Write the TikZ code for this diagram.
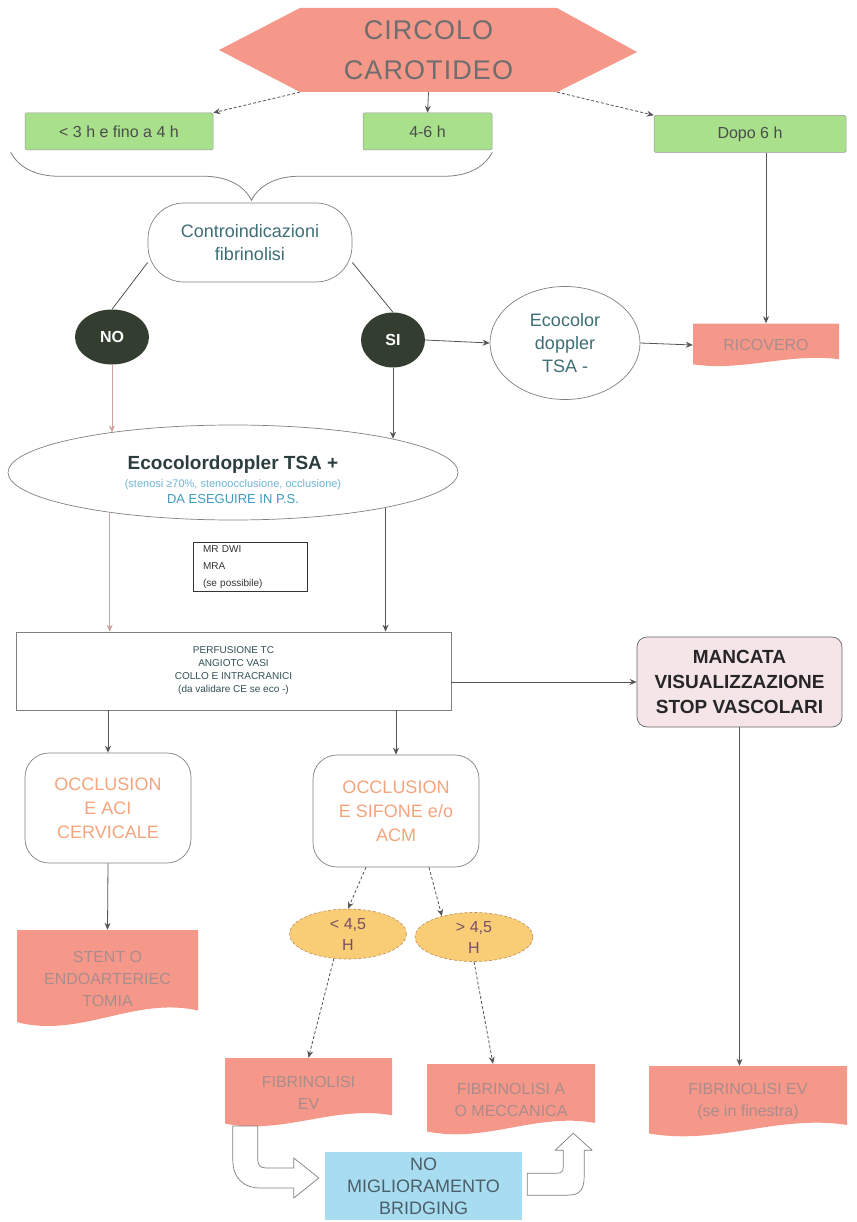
\documentclass[tikz,border=0pt]{standalone}
\usepackage{fontspec}
\setmainfont{Liberation Sans}
\usetikzlibrary{arrows.meta,shapes.geometric,calc,decorations.pathreplacing}
\definecolor{salmon}{RGB}{245,152,138}
\definecolor{lgreen}{RGB}{168,224,140}
\definecolor{gold}{RGB}{249,204,118}
\definecolor{goldborder}{RGB}{190,140,90}
\definecolor{darkball}{RGB}{52,62,48}
\definecolor{tealtxt}{RGB}{62,110,118}
\definecolor{tealdark}{RGB}{50,80,85}
\definecolor{occtxt}{RGB}{245,165,125}
\definecolor{fadetxt}{RGB}{170,140,140}
\definecolor{lblue}{RGB}{168,220,240}
\definecolor{lpink}{RGB}{245,228,232}
\definecolor{linegray}{RGB}{85,85,85}
\definecolor{hextxt}{RGB}{110,110,110}
\definecolor{pinkline}{RGB}{205,160,160}
\definecolor{htxt}{RGB}{120,80,100}
\definecolor{bigtxt}{RGB}{45,60,60}
\definecolor{lbluetxt}{RGB}{110,180,215}
\definecolor{bluetxt}{RGB}{60,155,190}
\definecolor{nomigtxt}{RGB}{75,95,105}
\newcommand\fsz[2]{\fontsize{#1}{#2}\selectfont}
\tikzset{
  arr/.style={draw=linegray, line width=0.8pt, -{Stealth[length=7pt,width=6pt]}},
  conn/.style={draw=linegray, line width=0.8pt},
  dsh/.style={dash pattern=on 3pt off 2pt},
  greenbox/.style={rectangle, fill=lgreen, draw=gray!80, line width=0.5pt, rounded corners=1.5pt, minimum height=37pt, font=\fsz{16}{19}, text=black!70},
  ctrbox/.style={rectangle, rounded corners=36pt, draw=gray, line width=0.7pt, fill=white, minimum width=204pt, minimum height=79pt, text=tealtxt, font=\fsz{18}{23}, align=center},
  ball/.style={ellipse, fill=darkball, text=white, font=\bfseries\fsz{16}{18}, inner sep=0pt},
  occ/.style={rectangle, rounded corners=24pt, draw=gray, line width=0.7pt, fill=white, minimum width=166pt, minimum height=110pt, text=occtxt, font=\fsz{18}{24}, align=center},
  hnode/.style={ellipse, fill=gold, draw=goldborder, dsh, line width=0.6pt, text=htxt, font=\fsz{16}{21}, inner sep=0pt, align=center},
  tapetext/.style={rectangle, inner sep=0pt, text=fadetxt, font=\fsz{16}{22}, align=center},
  blockarr/.style={fill=white, draw=gray, line width=0.7pt, line join=round},
  bracestyle/.style={decorate, decoration={brace, amplitude=48pt}, draw=gray, line width=0.8pt},
}
\newcommand\tapebox[7]{%
  \fill[salmon] ({#2-#4/2},{#3-#5/2}) -- ({#2+#4/2},{#3-#5/2}) -- ({#2+#4/2},{#3+#5/2-0.17*#5})
    .. controls ({#2+0.15*#4},{#3+#5/2-0.32*#5}) and ({#2-0.15*#4},{#3+#5/2+0.12*#5}) .. ({#2-#4/2},{#3+#5/2-0.05*#5}) -- cycle;
  \node[tapetext,minimum width=#4pt,minimum height=#5pt,#6] (#1) at (#2,#3) {#7};}
\begin{document}
\begin{tikzpicture}[x=1pt,y=-1pt]
\useasboundingbox (0,0) rectangle (856,1222);

% header hexagon
\fill[salmon] (219,50) -- (300,8) -- (557,8) -- (637,52) -- (557,92) -- (300,92) -- cycle;
\node[minimum width=257pt, minimum height=84pt, inner sep=0pt, text=hextxt, font=\fsz{27}{40}\addfontfeature{LetterSpace=4}, align=center] (hex) at (428.5,50) {CIRCOLO\\CAROTIDEO};

% time windows
\node[greenbox, minimum width=188pt] (g1) at (119,131.5) {< 3 h e fino a 4 h};
\node[greenbox, minimum width=129pt] (g2) at (427.5,131.5) {4-6 h};
\node[greenbox, minimum width=192pt] (g3) at (750,134) {Dopo 6 h};
\draw[arr, dsh] (hex.south west) -- (g1.north east);
\draw[arr] (hex.south) -- (g2.north);
\draw[arr, dsh] (hex.south east) -- (g3.north west);

% brace
\draw[bracestyle] ([yshift=-2pt]g2.south east) -- ([xshift=-14pt,yshift=-2pt]g1.south west);

% controindicazioni
\node[ctrbox] (ctr) at (250,242.5) {Controindicazioni\\fibrinolisi};
\node[ball, minimum width=74pt, minimum height=55pt] (no) at (112,337) {NO};
\node[ball, minimum width=64pt, minimum height=55pt] (si) at (393,340) {SI};
\draw[conn] ([yshift=-20pt]ctr.west) -- (no.north);
\draw[conn] ([yshift=-20pt]ctr.east) -- (si.north);

% ecocolor doppler TSA -
\node[ellipse, draw=gray, line width=0.7pt, fill=white, minimum width=150pt, minimum height=113pt, text=tealtxt, font=\fsz{18}{23}, align=center, inner sep=0pt] (eco) at (565,343) {Ecocolor\\doppler\\TSA -};
\tapebox{ric}{766}{345}{146}{43}{}{RICOVERO}
\draw[arr] (si.east) -- (eco.west);
\draw[arr] (eco.east) -- (ric.west);
\draw[arr] (ric.north |- g3.south) -- (ric.north);

% big ellipse
\node[ellipse, draw=gray, line width=0.7pt, fill=white, minimum width=450pt, minimum height=95pt, inner sep=0pt] (big) at (233,472.5) {};
\node[font=\bfseries\fsz{19}{22}, text=bigtxt, inner sep=0pt] (bigt1) at (233,465) {Ecocolordoppler TSA +};
\node[font=\fsz{11}{13}, text=lbluetxt, inner sep=0pt] (bigt2) at (233,485) {(stenosi ≥70\%, stenoocclusione, occlusione)};
\node[font=\fsz{13}{15}, text=bluetxt, inner sep=0pt] (bigt3) at (233,499) {DA ESEGUIRE IN P.S.};
\draw[arr, draw=pinkline] (no.south) -- (no.south |- big.162);
\draw[arr] (si.south) -- (si.south |- big.12);

% MR box
\node[draw=black!80, line width=0.7pt, fill=white, text width=94pt, inner xsep=10pt, inner ysep=3pt, minimum height=49pt, align=left, font=\fsz{10}{17}, text=black!80] (mr) at (250,567) {MR DWI\\MRA\\(se possibile)};

% perfusione
\node[draw=gray, line width=0.7pt, fill=white, minimum width=435pt, minimum height=78pt, align=center, font=\fsz{10}{13}, text=tealdark] (perf) at (233.5,671) {PERFUSIONE TC\\ANGIOTC VASI\\COLLO E INTRACRANICI\\(da validare CE se eco -)};
\draw[arr, draw=pinkline] (big.198) -- (big.198 |- perf.north);
\draw[arr] (big.347) -- (big.347 |- perf.north);

% mancata
\node[draw=gray!80!black, line width=0.7pt, fill=lpink, rounded corners=10pt, minimum width=205pt, minimum height=90pt, align=center, font=\bfseries\fsz{19}{25}, text=black!85] (manc) at (739.5,682) {MANCATA\\VISUALIZZAZIONE\\STOP VASCOLARI};
\draw[arr] (perf.east |- manc.west) -- (manc.west);

% occlusions
\node[occ] (aci) at (108,808) {OCCLUSION\\E ACI\\CERVICALE};
\node[occ, minimum height=112pt] (sif) at (396,811) {OCCLUSION\\E SIFONE e/o\\ACM};
\draw[arr] (aci.north |- perf.south) -- (aci.north);
\draw[arr] (sif.north |- perf.south) -- (sif.north);

% time after onset
\node[hnode, minimum width=117pt, minimum height=50pt] (lth) at (348,934) {< 4,5\\H};
\node[hnode, minimum width=118pt, minimum height=49pt] (gth) at (474,937) {> 4,5\\H};
\draw[arr, dsh] ([xshift=-30pt]sif.south) -- (lth.north);
\draw[arr, dsh] ([xshift=33pt]sif.south) -- (gth.147);

% treatments
\tapebox{stent}{107.5}{978.5}{181}{97}{}{STENT O\\ENDOARTERIEC\\TOMIA}
\draw[arr] (aci.south) -- (stent.north);
\tapebox{fibev}{308.5}{1092.5}{167}{69}{}{FIBRINOLISI\\EV}
\tapebox{fiba}{511}{1099.5}{168}{71}{}{FIBRINOLISI A\\O MECCANICA}
\tapebox{fibse}{748}{1101.5}{198}{71}{}{FIBRINOLISI EV\\(se in finestra)}
\draw[arr, dsh] (lth.240) -- (fibev.north);
\draw[arr, dsh] (gth.south) -- ([xshift=-18pt]fiba.north);
\draw[arr] (manc.south) -- (manc.south |- fibse.north);

% bridging
\node[fill=lblue, minimum width=197pt, minimum height=68pt, align=center, text=nomigtxt, font=\fsz{18}{22}, inner sep=0pt] (nomig) at (423.5,1186) {NO\\MIGLIORAMENTO\\BRIDGING};

% block arrows
\draw[blockarr] ([xshift=-6pt,yshift=8pt]nomig.west) coordinate (lbtip)
  -- ++(-25,-20) -- ++(0,10) -- ++(-28,0)
  .. controls +(-6,0) and +(0,4) .. ++(-8,-8)
  -- ++(0,-34) -- ++(-25,0) -- ++(0,34)
  .. controls +(0,20) and +(-14,0) .. ++(27,28)
  -- ++(34,0) -- ++(0,10) -- cycle;
\draw[blockarr] ([xshift=-22pt,yshift=2pt]fiba.south east) coordinate (rbtip)
  -- ++(19,17) -- ++(-8,0) -- ++(0,25)
  .. controls +(0,20) and +(14,0) .. ++(-22,20)
  -- ++(-35,0) -- ++(0,-22) -- ++(30,0)
  .. controls +(4,0) and +(0,4) .. ++(6,-6)
  -- ++(0,-17) -- ++(-8,0) -- cycle;
\end{tikzpicture}
\end{document}
